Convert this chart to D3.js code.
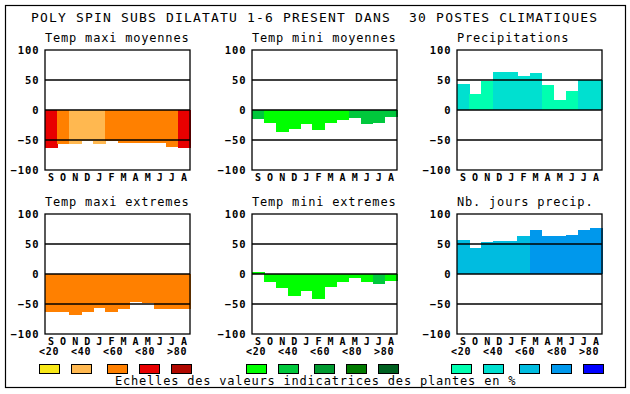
<!DOCTYPE html>
<html>
<head>
<meta charset="utf-8">
<script src="https://cdn.jsdelivr.net/npm/d3@7"></script>
<style>
  body { margin: 0; background: #fff; }
  text { font-family: "DejaVu Sans Mono", "Liberation Mono", monospace; }
</style>
</head>
<body>
<div id="chart"></div>
<script>
// month letters, Sept -> Aug
const months = ['S','O','N','D','J','F','M','A','M','J','J','A'];
const yTicks = [-100, -50, 0, 50, 100];
const gridVals = [-50, 0, 50];
const legendLabels = ['<20', '<40', '<60', '<80', '>80'];

const mainTitle = 'POLY SPIN SUBS DILATATU 1-6 PRESENT DANS  30 POSTES CLIMATIQUES';
const footer = 'Echelles des valeurs indicatrices des plantes en %';

// colour scales (class 0..4)
const maxiPal = ['#f8e818', '#ffb850', '#ff8000', '#e80000', '#b00800'];
const miniPal = ['#00ff00', '#00c83c', '#009a30', '#007a00', '#006020'];
const precPal = ['#00ffb0', '#00e0d0', '#00bce0', '#0098ec', '#0000ff'];

// values + colour class per month
const maxiMoy = [-63, -56, -56, -52, -56, -52, -55, -55, -55, -55, -61, -64];
const maxiMoyCls = [3, 2, 1, 1, 1, 2, 2, 2, 2, 2, 2, 3];
const miniMoy = [-15, -22, -36, -32, -24, -34, -22, -16, -14, -24, -21, -11];
const miniMoyCls = [1, 0, 0, 0, 0, 0, 0, 0, 1, 1, 1, 1];
const precip = [44, 27, 49, 64, 64, 57, 62, 42, 16, 31, 50, 50];
const precipCls = [1, 0, 0, 1, 1, 1, 1, 0, 0, 0, 1, 1];
const maxiExt = [-63, -64, -68, -64, -56, -63, -58, -46, -48, -58, -58, -58];
const maxiExtCls = [2, 2, 2, 2, 2, 2, 2, 2, 2, 2, 2, 2];
const miniExt = [4, -14, -23, -36, -28, -41, -21, -14, -6, -14, -16, -11];
const miniExtCls = [0, 0, 0, 0, 0, 0, 0, 0, 0, 0, 1, 0];
const nbJours = [57, 44, 54, 55, 55, 64, 74, 64, 64, 65, 74, 77];
const nbJoursCls = [2, 2, 2, 2, 2, 2, 3, 3, 3, 3, 3, 3];

const w = 630;
const h = 394;
const bw = 145;
const bh = 120;
const colX = [45, 252, 457];
const rowY = [50, 214];

const svg = d3.select('#chart')
  .append('svg')
  .attr('width', w)
  .attr('height', h)
  .style('background-color', '#fff');

svg.append('rect')
  .attr('x', 5.5).attr('y', 5.5)
  .attr('width', 620).attr('height', 382)
  .attr('fill', 'none')
  .attr('stroke', '#000')
  .attr('stroke-width', 1.2);

svg.append('text')
  .text(mainTitle)
  .attr('x', 31)
  .attr('y', 22)
  .attr('xml:space', 'preserve')
  .style('white-space', 'pre')
  .attr('font-size', 13)
  .attr('textLength', 566)
  .attr('fill', '#000');

const panels = [
  { title: 'Temp maxi moyennes', vals: maxiMoy, cls: maxiMoyCls, pal: maxiPal, col: 0, row: 0 },
  { title: 'Temp mini moyennes', vals: miniMoy, cls: miniMoyCls, pal: miniPal, col: 1, row: 0 },
  { title: 'Precipitations', vals: precip, cls: precipCls, pal: precPal, col: 2, row: 0 },
  { title: 'Temp maxi extremes', vals: maxiExt, cls: maxiExtCls, pal: maxiPal, col: 0, row: 1 },
  { title: 'Temp mini extremes', vals: miniExt, cls: miniExtCls, pal: miniPal, col: 1, row: 1 },
  { title: 'Nb. jours precip.', vals: nbJours, cls: nbJoursCls, pal: precPal, col: 2, row: 1 }
];

const xScale = d3.scaleBand().domain(d3.range(12)).range([0, bw]).padding(0);
const yScale = d3.scaleLinear().domain([-100, 100]).range([bh, 0]);

panels.forEach(p => {
  const g = svg.append('g')
    .attr('transform', 'translate(' + colX[p.col] + ',' + rowY[p.row] + ')');

  g.append('text')
    .text(p.title)
    .attr('x', 0)
    .attr('y', -8)
    .attr('font-size', 12)
    .attr('letter-spacing', 0.8)
    .attr('fill', '#000');

  g.append('g')
    .attr('shape-rendering', 'crispEdges')
    .selectAll('rect')
    .data(p.vals)
    .enter()
    .append('rect')
    .attr('x', (d, i) => xScale(i))
    .attr('width', xScale.bandwidth() + 0.5)
    .attr('y', d => Math.min(yScale(d), yScale(0)))
    .attr('height', d => Math.abs(yScale(d) - yScale(0)))
    .attr('fill', (d, i) => p.pal[p.cls[i]]);

  g.append('g')
    .selectAll('line')
    .data(gridVals)
    .enter()
    .append('line')
    .attr('x1', 0).attr('x2', bw)
    .attr('y1', d => yScale(d)).attr('y2', d => yScale(d))
    .attr('stroke', '#000')
    .attr('stroke-width', d => d === 0 ? 1.5 : 1.3);

  g.append('rect')
    .attr('width', bw).attr('height', bh)
    .attr('fill', 'none')
    .attr('stroke', '#000')
    .attr('stroke-width', 1.3);

  const yAxis = d3.axisLeft(yScale).tickValues(yTicks).tickSize(0).tickPadding(5.5);
  const ya = g.append('g').call(yAxis);
  ya.select('.domain').remove();
  ya.selectAll('text')
    .style('font-family', '"DejaVu Sans Mono", monospace')
    .style('font-size', '10.5px')
    .style('font-weight', 'bold')
    .attr('letter-spacing', 0.9)
    .attr('fill', '#000');

  const xAxis = d3.axisBottom(xScale).tickFormat(i => months[i]).tickSize(0).tickPadding(3.5);
  const xa = g.append('g').attr('transform', 'translate(0,' + bh + ')').call(xAxis);
  xa.select('.domain').remove();
  xa.selectAll('text')
    .style('font-family', '"DejaVu Sans Mono", monospace')
    .style('font-size', '10px')
    .style('font-weight', 'bold')
    .attr('fill', '#000');
});

// legends under each column
const palettes = [maxiPal, miniPal, precPal];
const legX = d3.scalePoint().domain(d3.range(5)).range([0, 128]);

palettes.forEach((pal, c) => {
  const lg = svg.append('g')
    .attr('transform', 'translate(' + (colX[c] - 6) + ',0)');
  lg.selectAll('text')
    .data(legendLabels)
    .enter()
    .append('text')
    .text(d => d)
    .attr('x', (d, i) => legX(i))
    .attr('y', 355)
    .attr('font-size', 10)
    .attr('font-weight', 'bold')
    .attr('letter-spacing', 0.7)
    .attr('fill', '#000');
  lg.selectAll('rect')
    .data(pal)
    .enter()
    .append('rect')
    .attr('x', (d, i) => legX(i) + (i >= 2 ? 4 : 0) + 0.5)
    .attr('y', 364.5)
    .attr('width', 20)
    .attr('height', 9)
    .attr('fill', d => d)
    .attr('stroke', '#000')
    .attr('stroke-width', 1);
});

svg.append('text')
  .text(footer)
  .attr('x', 115)
  .attr('y', 385)
  .attr('font-size', 12)
  .attr('letter-spacing', 0.8)
  .attr('fill', '#000');
</script>
</body>
</html>
